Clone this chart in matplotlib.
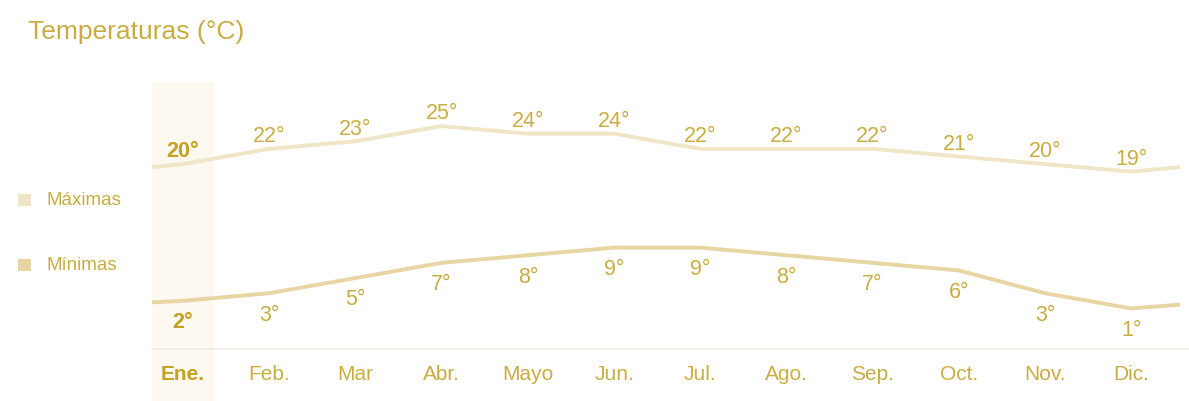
import matplotlib
matplotlib.use("Agg")
import matplotlib.pyplot as plt
import matplotlib.transforms as mtransforms

months = ["Ene.", "Feb.", "Mar", "Abr.", "Mayo", "Jun.", "Jul.", "Ago.", "Sep.", "Oct.", "Nov.", "Dic."]
max_temps = [20, 22, 23, 25, 24, 24, 22, 22, 22, 21, 20, 19]
min_temps = [2, 3, 5, 7, 8, 9, 9, 8, 7, 6, 3, 1]
# values where the drawn lines run out at the left and right edges
max_edges = [19.6, 19.6]
min_edges = [1.8, 1.5]
edge_x = [-0.36, 11.57]

title = "Temperaturas (°C)"
legend_labels = ["Máximas", "Mínimas"]

TEXT = "#caad40"
TEXT_BOLD = "#c4a11f"
MAX_COL = "#f0e5c6"
MIN_COL = "#e7d5a2"
BAND = "#fdf8f0"
FONT = "Liberation Sans"

W, H = 1189, 402
fig = plt.figure(figsize=(W / 100, H / 100), dpi=100)
fig.patch.set_facecolor("white")

# axes placement in pixels: left 152, right 1189, top 83, bottom 350
ax = fig.add_axes([152 / W, 1 - 350 / H, (1189 - 152) / W, (350 - 83) / H])
ax.set_xlim(-0.36, (1189 - 183) / 86.2)
ax.set_ylim(-4.34, 30.8)
ax.axis("off")

x = list(range(len(months)))

# highlight band for Enero (extends below the axes, behind the label)
trans = mtransforms.blended_transform_factory(ax.transData, ax.transAxes)
ax.add_patch(plt.Rectangle((-0.36, -0.2), 0.72, 1.2, transform=trans,
                           facecolor=BAND, edgecolor="none", clip_on=False, zorder=0))

# baseline
ax.plot([-0.36, 11.67], [-4.34, -4.34], color="#f1ece3", lw=1.2, clip_on=False, zorder=1)

mx = [edge_x[0]] + x + [edge_x[1]]
ax.plot(mx, [max_edges[0]] + max_temps + [max_edges[1]], color=MAX_COL, lw=2.8,
        solid_capstyle="butt", solid_joinstyle="round", zorder=2)
ax.plot(mx, [min_edges[0]] + min_temps + [min_edges[1]], color=MIN_COL, lw=2.8,
        solid_capstyle="butt", solid_joinstyle="round", zorder=2)

for i, (m, hi, lo) in enumerate(zip(months, max_temps, min_temps)):
    bold = i == 0
    col = TEXT_BOLD if bold else TEXT
    fw = "bold" if bold else "normal"
    ax.annotate(f"{hi}°", (i, hi), xytext=(0, 9.5), textcoords="offset points",
                ha="center", va="center", fontsize=15.5, color=col, fontweight=fw,
                family=FONT, zorder=3)
    ax.annotate(f"{lo}°", (i, lo), xytext=(0, -15), textcoords="offset points",
                ha="center", va="center", fontsize=15.5, color=col, fontweight=fw,
                family=FONT, zorder=3)
    ax.text(i, -0.09, m, transform=trans, ha="center", va="center",
            fontsize=15, color=col, fontweight=fw, family=FONT, zorder=3)

# title
fig.text(28 / W, 1 - 32 / H, title, ha="left", va="center", fontsize=19,
         color=TEXT, family=FONT)

# legend
for lab, col, yp in zip(legend_labels, [MAX_COL, MIN_COL], [201, 266]):
    fig.patches.append(plt.Rectangle((18 / W, 1 - (yp + 6) / H), 13 / W, 12 / H,
                                     transform=fig.transFigure, facecolor=col,
                                     edgecolor="none"))
    fig.text(47 / W, 1 - yp / H, lab, ha="left", va="center", fontsize=13.5,
             color=TEXT, family=FONT)

fig.savefig("out.png", dpi=100, facecolor="white")
